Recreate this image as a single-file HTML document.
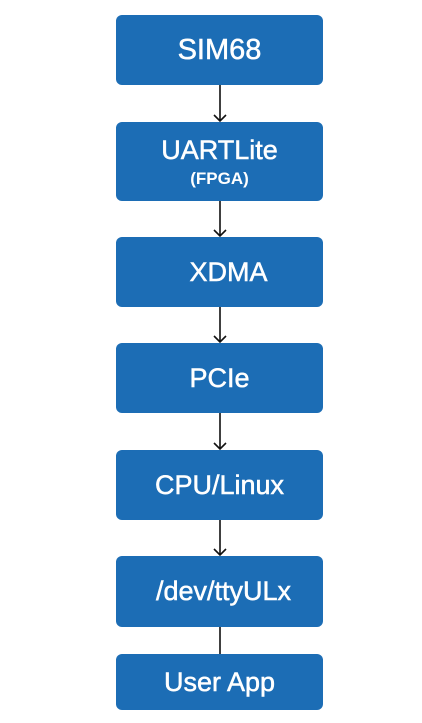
<!DOCTYPE html>
<html><head><style>
body{margin:0;width:422px;height:723px;background:#fff;position:relative;overflow:hidden;font-family:"Liberation Sans","DejaVu Sans",sans-serif}
.b{position:absolute;left:116px;width:207px;background:#1c6db5;border-radius:6px;color:#fff;display:flex;flex-direction:column;align-items:center;justify-content:center;font-size:27px;line-height:1;-webkit-text-stroke:0.5px #fff}
.s{font-size:17px;margin-top:6px;font-weight:bold;-webkit-text-stroke:0}
</style></head><body>
<div class="b" style="top:15px;height:70px;font-size:29px">SIM68</div>
<div class="b" style="top:122px;height:79px"><div>UARTLite</div><div class="s">(FPGA)</div></div>
<div class="b" style="top:237px;height:70px"><span style="margin-left:18px">XDMA</span></div>
<div class="b" style="top:343px;height:70px">PCIe</div>
<div class="b" style="top:450px;height:70px">CPU/Linux</div>
<div class="b" style="top:556px;height:71px"><span style="margin-left:8px">/dev/ttyULx</span></div>
<div class="b" style="top:654px;height:56px">User App</div>
<svg width="422" height="723" style="position:absolute;left:0;top:0" fill="none" stroke="#111" stroke-width="1.6">
<path d="M220 85V121M214 115l6 6 6-6"/>
<path d="M220 201V236M214 230l6 6 6-6"/>
<path d="M220 307V342M214 336l6 6 6-6"/>
<path d="M220 413V449M214 443l6 6 6-6"/>
<path d="M220 520V555M214 549l6 6 6-6"/>
<path d="M220 627V654"/>
</svg>
</body></html>
